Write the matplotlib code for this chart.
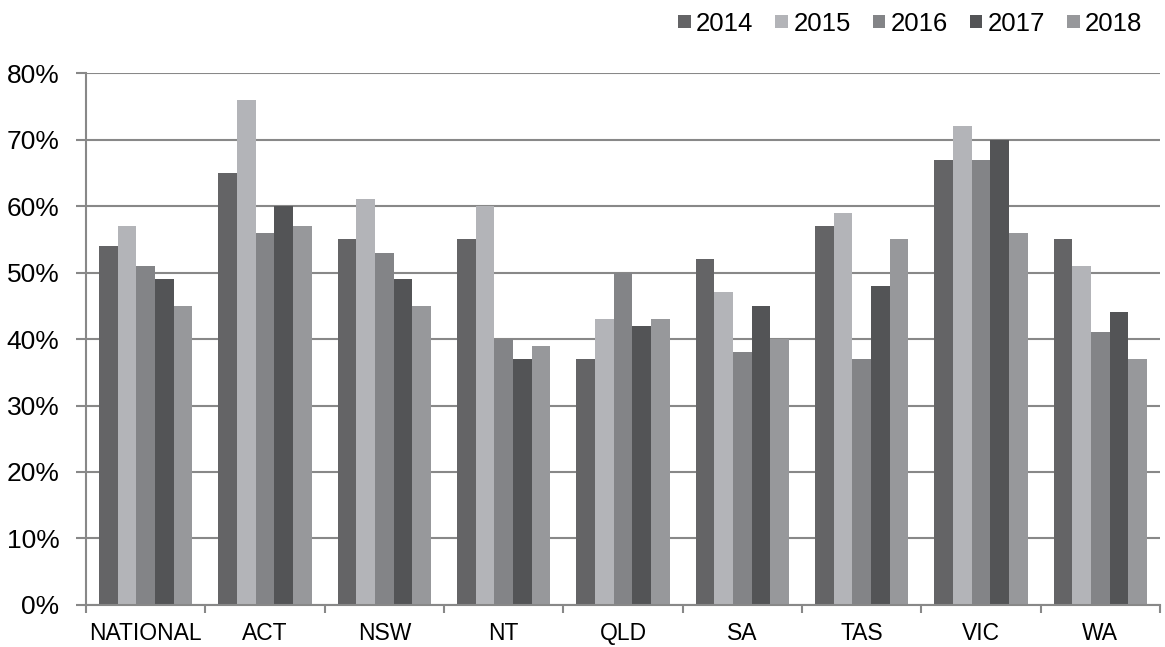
import matplotlib.pyplot as plt
import numpy as np

plt.rcParams['font.family'] = ['Liberation Sans', 'DejaVu Sans']

# data
regions = ["NATIONAL", "ACT", "NSW", "NT", "QLD", "SA", "TAS", "VIC", "WA"]
years = ["2014", "2015", "2016", "2017", "2018"]
v2014 = [54, 65, 55, 55, 37, 52, 57, 67, 55]
v2015 = [57, 76, 61, 60, 43, 47, 59, 72, 51]
v2016 = [51, 56, 53, 40, 50, 38, 37, 67, 41]
v2017 = [49, 60, 49, 37, 42, 45, 48, 70, 44]
v2018 = [45, 57, 45, 39, 43, 40, 55, 56, 37]
series = [v2014, v2015, v2016, v2017, v2018]
colors = ["#646466", "#b3b4b8", "#838487", "#535456", "#97989b"]

fig = plt.figure(figsize=(11.65, 6.47), dpi=100)
ax = fig.add_axes([0.0738, 0.065, 0.9219, 0.822])

x = np.arange(len(regions))
bw = 0.156
for i, (vals, c) in enumerate(zip(series, colors)):
    ax.bar(x + (i - 2) * bw, np.array(vals) / 100, bw, color=c, label=years[i], zorder=2)

ax.set_xlim(-0.5, len(regions) - 0.5)
ax.set_ylim(0, 0.8)
ax.set_yticks(np.arange(0, 0.81, 0.1))
ax.set_yticklabels([f"{int(round(t * 100))}%" for t in np.arange(0, 0.81, 0.1)])
ax.yaxis.grid(True, color="#888888", linewidth=1.5, zorder=0)
ax.set_axisbelow(True)

ax.set_xticks(x)
ax.set_xticklabels(regions)
ax.set_xticks(np.arange(-0.5, len(regions)), minor=True)
ax.tick_params(axis="x", which="major", length=0, labelsize=16.5, pad=12, colors="black")
ax.tick_params(axis="x", which="minor", length=6, width=1.5, color="#888888")
ax.tick_params(axis="y", length=7, width=1.5, color="#888888", labelsize=19, pad=12,
               labelcolor="black")

for s in ["top", "right"]:
    ax.spines[s].set_visible(False)
for s in ["left", "bottom"]:
    ax.spines[s].set_color("#888888")
    ax.spines[s].set_linewidth(1.5)

ax.legend(loc="upper right", bbox_to_anchor=(0.993, 1.135), ncol=5, frameon=False,
          fontsize=18.5, handlelength=0.5, handleheight=0.4, handletextpad=0.2,
          columnspacing=0.85, borderaxespad=0)

fig.savefig("out.png", dpi=100)
